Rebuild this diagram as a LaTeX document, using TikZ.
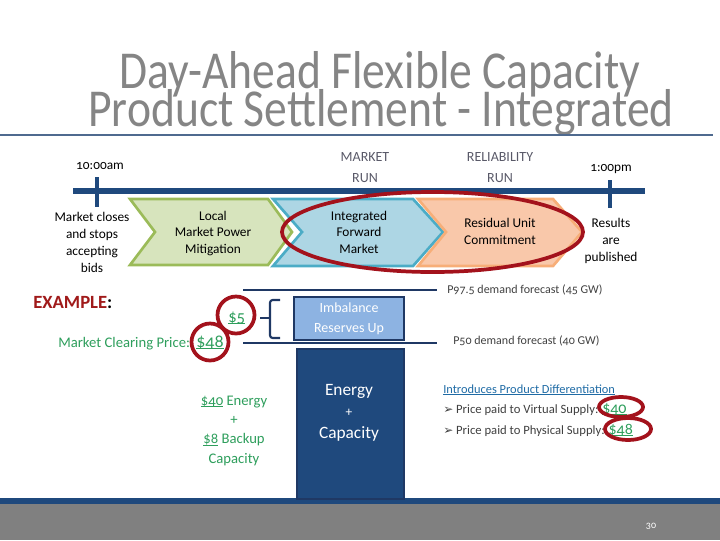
\documentclass[tikz,border=0pt]{standalone}
\usepackage{fontspec}
\setmainfont{Carlito}[Numbers=OldStyle]
\newfontfamily\symfont{DejaVu Sans}
\newcommand\myul[1]{\setbox0\hbox{#1}\rlap{\rule[-1.6pt]{\wd0}{0.8pt}}#1}
\definecolor{navy}{HTML}{1F497D}
\definecolor{navyd}{HTML}{1F3864}
\definecolor{titlegray}{HTML}{858585}
\definecolor{rulec}{HTML}{4F6A8F}
\definecolor{footgray}{HTML}{808080}
\definecolor{grnfill}{HTML}{D7E4BD}
\definecolor{grnline}{HTML}{9BBB59}
\definecolor{blufill}{HTML}{ADD6E4}
\definecolor{bluline}{HTML}{4BACC6}
\definecolor{orgfill}{HTML}{F9C8AA}
\definecolor{orgline}{HTML}{F7AE78}
\definecolor{redring}{HTML}{A3121C}
\definecolor{exred}{HTML}{A01A1A}
\definecolor{money}{HTML}{2E9E5C}
\definecolor{runc}{HTML}{595968}
\definecolor{linkc}{HTML}{1F6BA5}
\definecolor{imbfill}{HTML}{8DB3E2}
\definecolor{txtd}{HTML}{404040}
\tikzset{
  titletext/.style={anchor=base, text=titlegray, font=\fontsize{40}{44}\selectfont, inner sep=0pt},
  small/.style={anchor=base, align=center, inner sep=0pt, font=\fontsize{10}{12.75}\selectfont},
  runlbl/.style={anchor=base, align=center, inner sep=0pt, text=runc, font=\fontsize{10.5}{15.5}\selectfont},
  chev/.style={line width=2pt, line join=miter},
  ring/.style={draw=redring, line width=2.8pt},
  moneytxt/.style={anchor=base, inner sep=0pt, text=money},
  fcast/.style={anchor=base west, inner sep=0pt, text=txtd, font=\fontsize{9}{11}\selectfont},
  levline/.style={draw=navyd, line width=1.6pt},
}
\begin{document}
\begin{tikzpicture}[x=0.75pt,y=-0.75pt]
\useasboundingbox (0,0) rectangle (720,540);
% footer
\fill[footgray] (0,504) rectangle (720,540);
\fill[navy] (0,498) rectangle (720,504);
\node[anchor=base, inner sep=0pt, text=white, font=\fontsize{7.5}{9}\selectfont] (pnum) at (651,528) {30};
% title
\node[titletext] (t1) at (380,88) {\scalebox{0.855}[1]{Day-Ahead Flexible Capacity}};
\node[titletext] (t2) at (381,126) {\scalebox{0.855}[1]{Product Settlement - Integrated}};
\draw[rulec, line width=1.6pt] (0,135) -- (713,135);
% timeline
\coordinate (tlA) at (73,191);
\coordinate (tlB) at (645,191);
\draw[navy, line width=3.8pt] (tlA) -- (tlB);
\coordinate (k1a) at (97,177); \coordinate (k1b) at (97,207);
\coordinate (k2a) at (610,180); \coordinate (k2b) at (610,208);
\draw[navy, line width=3pt] (k1a) -- (k1b);
\draw[navy, line width=3pt] (k2a) -- (k2b);
\node[small, font=\fontsize{10}{12}\selectfont] (t10) at (100,169) {10:00am};
\node[small, font=\fontsize{10}{12}\selectfont] (t13) at (611,171) {1:00pm};
\node[runlbl] (mrun) at (365,182) {MARKET\\RUN};
\node[runlbl] (rrun) at (500,182) {RELIABILITY\\RUN};
\node[small] (close) at (92,272) {Market closes\\and stops\\accepting\\bids};
\node[small] (pub) at (611,261) {Results\\are\\published};
% chevrons
\draw[chev, fill=grnfill, draw=grnline] (130,199) -- (268,199) -- (292,232) -- (268,265) -- (130,265) -- (155,232) -- cycle;
\draw[chev, fill=blufill, draw=bluline] (273,199) -- (413,199) -- (443,232) -- (413,266) -- (273,266) -- (302,232) -- cycle;
\draw[chev, fill=orgfill, draw=orgline] (418,199) -- (553,199) -- (582,232) -- (553,266) -- (418,266) -- (446,232) -- cycle;
\node[small, font=\fontsize{10}{12.2}\selectfont] (lmpm) at (213,253) {Local\\Market Power\\Mitigation};
\node[small, font=\fontsize{10}{12.2}\selectfont] (ifm) at (359,253) {Integrated\\Forward\\Market};
\node[small, font=\fontsize{10}{12.5}\selectfont] (ruc) at (500,244) {Residual Unit\\Commitment};
\draw[ring] (432.5,232) ellipse [x radius=150.5, y radius=40];
% example
\node[anchor=base west, inner sep=0pt, text=exred, font=\bfseries\fontsize{14}{16}\selectfont] (ex) at (33,308) {EXAMPLE\textcolor{black}{:}};
\node[moneytxt, anchor=base west, font=\fontsize{11}{13}\selectfont] (mcp) at (58,347) {Market Clearing Price:};
\node[moneytxt, anchor=base west, font=\fontsize{13.5}{15}\selectfont] (p48) at (196,347) {\myul{\$48}};
\node[moneytxt, anchor=base west, font=\fontsize{12.5}{15}\selectfont] (p5) at (228,322) {\myul{\$5}};
\draw[ring] (236,315) circle [radius=18.5];
\draw[ring] (210,342) circle [radius=18.5];
\node[moneytxt, align=center, font=\fontsize{11}{14.5}\selectfont] (split) at (234,463) {\myul{\$40} Energy\\+\\\myul{\$8} Backup\\Capacity};
% bars
\coordinate (u1) at (243,290); \coordinate (u2) at (437,290);
\coordinate (l1) at (243,343); \coordinate (l2) at (437,343);
\draw[levline] (u1) -- (u2);
\draw[levline] (l1) -- (l2);
\draw[navyd, line width=1.6pt, rounded corners=2pt] (280,300) -- (270,300) -- (270,338) -- (280,338);
\draw[navyd, line width=1.6pt] (260,318) -- (270,318);
\node[draw=navyd, line width=1.6pt, fill=imbfill, minimum width=110*0.75pt, minimum height=43*0.75pt, inner sep=0pt, anchor=north west, text=white, align=center, font=\fontsize{10.5}{15}\selectfont] (imb) at (293,296) {Imbalance\\Reserves Up};
\node[draw=navyd, line width=1.2pt, fill=navy, minimum width=107*0.75pt, minimum height=150*0.75pt, inner sep=0pt, anchor=north west] (enbox) at (296,348) {};
\node[anchor=base, inner sep=0pt, align=center, text=white, font=\fontsize{13}{16}\selectfont] (entext) at (349,438) {Energy\\{\fontsize{10}{16}\selectfont +}\\Capacity};
% right notes
\node[fcast] (p975) at (447,293) {P97.5 demand forecast (45 GW)};
\node[fcast] (p50) at (453,344) {P50 demand forecast (40 GW)};
\node[anchor=base west, inner sep=0pt, text=linkc, font=\fontsize{9.3}{11}\selectfont] (intro) at (443,393) {\myul{Introduces Product Differentiation}};
\node[anchor=base west, inner sep=0pt, text=txtd, font=\fontsize{9.5}{11}\selectfont] (b1) at (443,413) {{\symfont\fontsize{9}{10}\selectfont ➢} Price paid to Virtual Supply: \textcolor{money}{\fontsize{12}{12}\selectfont\myul{\$40}}};
\node[anchor=base west, inner sep=0pt, text=txtd, font=\fontsize{9.5}{11}\selectfont] (b2) at (443,434) {{\symfont\fontsize{9}{10}\selectfont ➢} Price paid to Physical Supply: \textcolor{money}{\fontsize{12}{12}\selectfont\myul{\$48}}};
\draw[ring] (621,407) ellipse [x radius=22, y radius=10];
\draw[ring] (628,429) ellipse [x radius=23, y radius=11];
\end{tikzpicture}
\end{document}
